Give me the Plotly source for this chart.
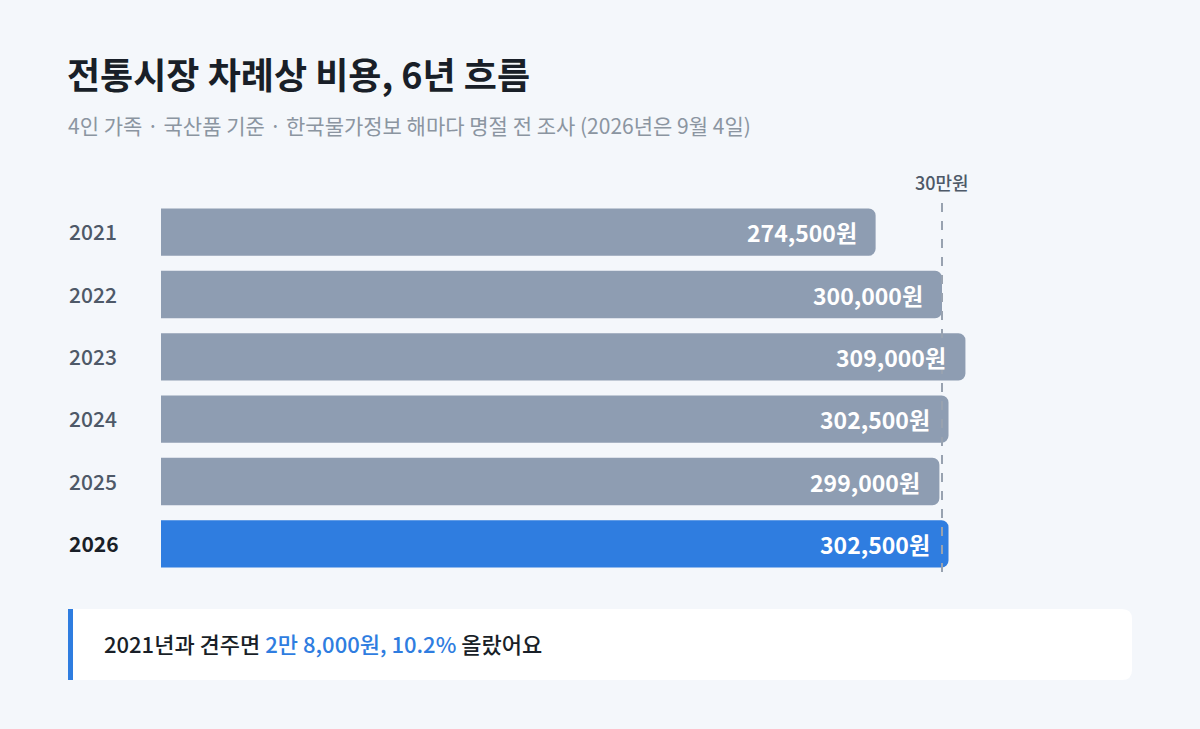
import plotly.graph_objects as go

# 전통시장 차례상 비용 (4인 가족, 국산품 기준)
years = ["2021", "2022", "2023", "2024", "2025", "2026"]
costs = [274500, 300000, 309000, 302500, 299000, 302500]
ref_line = 300000
ref_label = "30만원"

title = "전통시장 차례상 비용, 6년 흐름"
subtitle = "4인 가족 · 국산품 기준 · 한국물가정보 해마다 명절 전 조사 (2026년은 9월 4일)"
note_plain = "2021년과 견주면 "
note_blue = "2만 8,000원, 10.2%"
note_tail = " 올랐어요"

W, H = 1200, 729
FONT = "Noto Sans CJK KR"
BG = "#F4F7FB"
GRAY_BAR = "#8E9DB2"
BLUE = "#2F7DE0"
DARK = "#191F28"


def px_x(p):
    return p / W


def px_y(p):
    return 1 - p / H


bar_colors = [BLUE if y == years[-1] else GRAY_BAR for y in years]

fig = go.Figure()
fig.add_trace(go.Bar(
    x=costs, y=years, orientation="h",
    marker=dict(color=bar_colors, line=dict(width=0)),
    width=0.76, hoverinfo="skip",
))

# values inside the bars (category index as y, so "2021" is not read as a number)
for i, v in enumerate(costs):
    fig.add_annotation(
        x=v, y=i, xref="x", yref="y", text=f"{v:,}원",
        xanchor="right", yanchor="middle", xshift=-17, showarrow=False,
        font=dict(family=FONT, size=23, color="white", weight=700),
    )

# year labels on the left
for i, y in enumerate(years):
    last = y == years[-1]
    fig.add_annotation(
        x=px_x(67), y=i, xref="paper", yref="y", text=y,
        xanchor="left", yanchor="middle", yshift=1, showarrow=False,
        font=dict(family=FONT, size=21, color=DARK if last else "#4E5968",
                  weight=700 if last else 500),
    )

# 30만원 reference line
fig.add_shape(type="line", xref="x", yref="paper", x0=ref_line, x1=ref_line,
              y0=px_y(572), y1=px_y(198),
              line=dict(color="#98A2B0", width=2, dash="dash"), layer="above")
fig.add_annotation(x=ref_line, y=px_y(182), xref="x", yref="paper", text=ref_label,
                   xanchor="center", yanchor="middle", showarrow=False,
                   font=dict(family=FONT, size=18, color="#4E5968", weight=500))

# title / subtitle
fig.add_annotation(x=px_x(65), y=px_y(73), xref="paper", yref="paper", text=title,
                   xanchor="left", yanchor="middle", showarrow=False,
                   font=dict(family=FONT, size=36, color=DARK, weight=700))
fig.add_annotation(x=px_x(66), y=px_y(125), xref="paper", yref="paper", text=subtitle,
                   xanchor="left", yanchor="middle", showarrow=False,
                   font=dict(family=FONT, size=21, color="#8B95A1"))

# callout box
x0, x1, y0, y1, r = px_x(68), px_x(1132), px_y(609), px_y(680), 10
rx, ry = r / W, r / H
path = (f"M {x0},{y0} L {x1 - rx},{y0} Q {x1},{y0} {x1},{y0 - ry} "
        f"L {x1},{y1 + ry} Q {x1},{y1} {x1 - rx},{y1} L {x0},{y1} Z")
fig.add_shape(type="path", path=path, xref="paper", yref="paper",
              fillcolor="white", line=dict(width=0), layer="below")
fig.add_shape(type="rect", xref="paper", yref="paper", x0=x0, x1=px_x(73), y0=y0, y1=y1,
              fillcolor=BLUE, line=dict(width=0), layer="below")
fig.add_annotation(
    x=px_x(102), y=px_y(643), xref="paper", yref="paper",
    text=f"{note_plain}<span style='color:{BLUE}'>{note_blue}</span>{note_tail}",
    xanchor="left", yanchor="middle", showarrow=False,
    font=dict(family=FONT, size=22, color=DARK, weight=500),
)

# plot area: bar base at x=161px, 300,000 at x=942px
left_px, right_px = 161, 1130
xmax = ref_line * (right_px - left_px) / (942 - left_px)
fig.update_layout(
    width=W, height=H, margin=dict(l=0, r=0, t=0, b=0, pad=0),
    paper_bgcolor=BG, plot_bgcolor=BG, showlegend=False,
    barcornerradius=7,
    xaxis=dict(domain=[px_x(left_px), px_x(right_px)], range=[0, xmax],
               visible=False, fixedrange=True),
    yaxis=dict(domain=[px_y(575), px_y(201)], range=[len(years) - 0.5, -0.5],
               type="category", categoryorder="array", categoryarray=years,
               visible=False, fixedrange=True),
)

fig.write_html("out.html", config={"displayModeBar": False},
               post_script="document.body.style.margin='0';")
